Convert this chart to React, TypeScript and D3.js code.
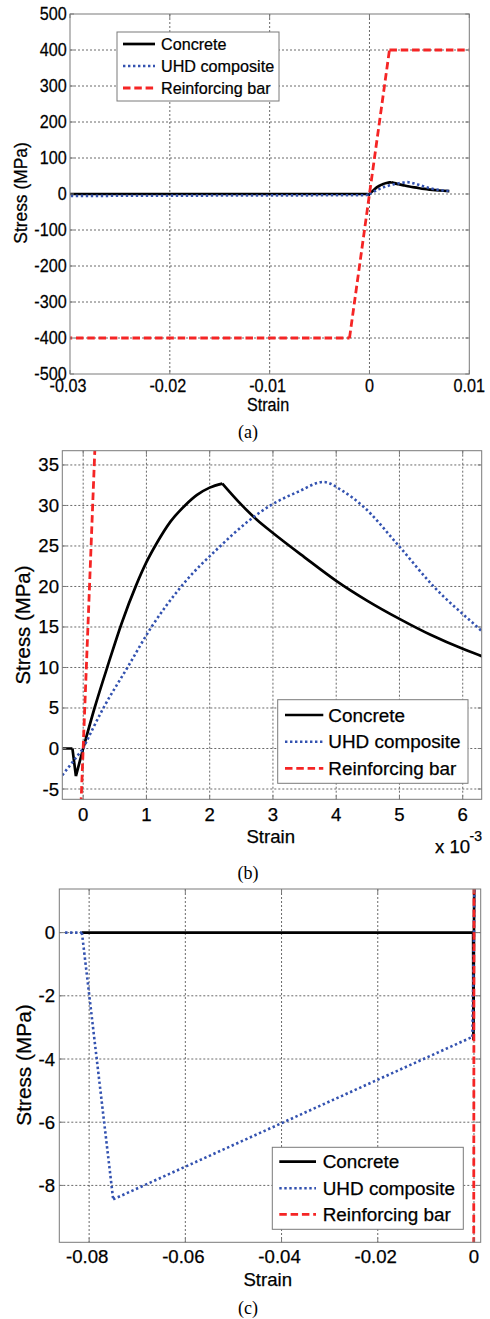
import React, { useEffect, useRef } from "react";
import * as d3 from "d3";

// ---------- data ----------
const concreteStrain = [-0.0815, -0.00017, -0.000115, 0, 0.00018, 0.0004, 0.00061, 0.00084, 0.001, 0.00116, 0.00138, 0.00161, 0.0018, 0.002, 0.0022, 0.0025, 0.00275, 0.003, 0.0035, 0.004, 0.0045, 0.005, 0.0055, 0.006, 0.0063, 0.007, 0.008];
const concreteStress = [0, 0, -3.4, 0, 5, 10.5, 15.5, 20.2, 23, 25.3, 28.0, 30.0, 31.3, 32.2, 32.7, 30.1, 28.2, 26.6, 23.6, 20.7, 18.2, 16.0, 14.0, 12.3, 11.4, 9.8, 8.2];

const uhdStrain = [-0.085, -0.0815, -0.075, -0.00033, 0, 0.00032, 0.0007, 0.00108, 0.00155, 0.00217, 0.0026, 0.00296, 0.0034, 0.0038, 0.0041, 0.00441, 0.00499, 0.00554, 0.00623, 0.0063, 0.007, 0.008];
const uhdStress = [0, 0, -8.44, -3.3, 0, 5, 10, 15, 20, 25, 28, 30, 31.7, 32.9, 31.8, 30, 25, 20, 15, 14.5, 11.2, 8.4];

const barStrain = [-0.086, -0.002, 0.002, 0.01];
const barStress = [-400, -400, 400, 400];

// strains where a series has a sharp corner
const concreteCorners = [-0.00017, -0.000115, 0, 0.0022];
const uhdCorners = [-0.0815, -0.075, -0.00033, 0];
const barCorners = [-0.002, 0.002];

const seriesNames = ["Concrete", "UHD composite", "Reinforcing bar"];

const aXTicks = [-0.03, -0.02, -0.01, 0, 0.01];
const aXTickLabels = ["-0.03", "-0.02", "-0.01", "0", "0.01"];
const aYTicks = [-500, -400, -300, -200, -100, 0, 100, 200, 300, 400, 500];
const aYTickLabels = ["-500", "-400", "-300", "-200", "-100", "0", "100", "200", "300", "400", "500"];

const bXTicks = [0, 0.001, 0.002, 0.003, 0.004, 0.005, 0.006];
const bXTickLabels = ["0", "1", "2", "3", "4", "5", "6"];
const bYTicks = [-5, 0, 5, 10, 15, 20, 25, 30, 35];
const bYTickLabels = ["-5", "0", "5", "10", "15", "20", "25", "30", "35"];

const cXTicks = [-0.08, -0.06, -0.04, -0.02, 0];
const cXTickLabels = ["-0.08", "-0.06", "-0.04", "-0.02", "0"];
const cYTicks = [-8, -6, -4, -2, 0];
const cYTickLabels = ["-8", "-6", "-4", "-2", "0"];

const SANS = '"Liberation Sans", Arial, Helvetica, sans-serif';
const SERIF = '"Liberation Serif", "Times New Roman", serif';

const panels = [
  {
    id: "a", left: 70, right: 469.3, top: 14, bottom: 374,
    xDomain: [-0.03, 0.01], yDomain: [-500, 500],
    xTicks: aXTicks, xLabels: aXTickLabels, yTicks: aYTicks, yLabels: aYTickLabels,
    fs: 18.6, sx: 0.87, yLabelRight: 66.7, xLabelY: 386,
    xTitle: { x: 268, y: 405 }, yTitle: { x: 21, y: 193, fs: 18.6, sx: 0.935 },
    caption: { text: "(a)", x: 248, y: 432 },
    legend: { x0: 117, x1: 279, y0: 32, y1: 101, rows: [44, 66, 88], l0: 123, l1: 155, tx: 161, fs: 17.2, sx: 0.94 },
  },
  {
    id: "b", left: 62.3, right: 481.7, top: 450.7, bottom: 799.3,
    xDomain: [-0.00033, 0.0063], yDomain: [-6.27, 36.76],
    xTicks: bXTicks, xLabels: bXTickLabels, yTicks: bYTicks, yLabels: bYTickLabels,
    fs: 18.6, sx: 1, yLabelRight: 59, xLabelY: 814,
    xTitle: { x: 270.7, y: 836.7 }, yTitle: { x: 22.7, y: 625, fs: 20.4, sx: 1 },
    caption: { text: "(b)", x: 248, y: 872.7 },
    legend: { x0: 277.7, x1: 468, y0: 699.7, y1: 783.3, rows: [715, 741.7, 768.3], l0: 285, l1: 323.3, tx: 328.3, fs: 18.9, sx: 1 },
    exponent: true,
  },
  {
    id: "c", left: 59.3, right: 480.7, top: 889, bottom: 1242.3,
    xDomain: [-0.0862, 0.0014], yDomain: [-9.8, 1.38],
    xTicks: cXTicks, xLabels: cXTickLabels, yTicks: cYTicks, yLabels: cYTickLabels,
    fs: 18.6, sx: 1, yLabelRight: 55, xLabelY: 1256.7,
    xTitle: { x: 267.7, y: 1279.3 }, yTitle: { x: 23.3, y: 1065, fs: 20.8, sx: 1 },
    caption: { text: "(c)", x: 248, y: 1308 },
    legend: { x0: 272.3, x1: 463.3, y0: 1147.3, y1: 1229.3, rows: [1161.7, 1188.3, 1214.3], l0: 279.3, l1: 316, tx: 322.7, fs: 18.9, sx: 1 },
  },
];

const styles = [
  { color: "#000000", width: 2.7, dash: null as string | null },
  { color: "#3352b0", width: 2.6, dash: "2.4,2.6" },
  { color: "#f52525", width: 2.8, dash: "7.5,3.8" },
];

function addText(g: any, x: number, y: number, s: string, o: any) {
  return g
    .append("text")
    .attr("transform", `translate(${x},${y}) rotate(${o.rotate || 0}) scale(${o.sx || 1},1)`)
    .attr("text-anchor", o.anchor || "middle")
    .attr("dominant-baseline", "central")
    .style("font-family", o.family || SANS)
    .style("font-size", `${o.size}px`)
    .attr("fill", "#000")
    .attr("stroke", o.family ? "none" : "#000")
    .attr("stroke-width", 0.25)
    .text(s);
}

// split a series at its corner points so each smooth piece is drawn with a monotone curve
function splitAtCorners(xs: number[], ys: number[], corners: number[]) {
  const pieces: number[][][] = [];
  let cur: number[][] = [];
  xs.forEach((xv, i) => {
    cur.push([xv, ys[i]]);
    if (corners.includes(xv) && i > 0 && i < xs.length - 1) {
      pieces.push(cur);
      cur = [[xv, ys[i]]];
    }
  });
  if (cur.length) pieces.push(cur);
  return pieces;
}

export default function App() {
  const ref = useRef<SVGSVGElement | null>(null);

  useEffect(() => {
    const svg = d3.select(ref.current);
    svg.selectAll("*").remove();

    const datasets = [
      splitAtCorners(concreteStrain, concreteStress, concreteCorners),
      splitAtCorners(uhdStrain, uhdStress, uhdCorners),
      splitAtCorners(barStrain, barStress, barCorners),
    ];

    panels.forEach((p) => {
      const g = svg.append("g");
      const x = d3.scaleLinear().domain(p.xDomain).range([p.left, p.right]);
      const y = d3.scaleLinear().domain(p.yDomain).range([p.bottom, p.top]);

      const clipId = `clip-${p.id}`;
      svg
        .append("defs")
        .append("clipPath")
        .attr("id", clipId)
        .append("rect")
        .attr("x", p.left)
        .attr("y", p.top)
        .attr("width", p.right - p.left)
        .attr("height", p.bottom - p.top);

      g.append("rect")
        .attr("x", p.left).attr("y", p.top)
        .attr("width", p.right - p.left).attr("height", p.bottom - p.top)
        .attr("fill", "#fff");

      // grid
      const grid = g.append("g").attr("stroke", "#444").attr("stroke-width", 0.8).attr("stroke-dasharray", "2,2");
      p.xTicks.forEach((t: number) => {
        const xx = x(t);
        if (xx <= p.left + 0.5 || xx >= p.right - 0.5) return;
        grid.append("line").attr("x1", xx).attr("x2", xx).attr("y1", p.top).attr("y2", p.bottom);
      });
      p.yTicks.forEach((t: number) => {
        const yy = y(t);
        if (yy <= p.top + 0.5 || yy >= p.bottom - 0.5) return;
        grid.append("line").attr("y1", yy).attr("y2", yy).attr("x1", p.left).attr("x2", p.right);
      });

      // series
      const line = d3
        .line<number[]>()
        .x((d) => x(d[0]))
        .y((d) => y(d[1]))
        .curve(d3.curveMonotoneX);
      const plot = g.append("g").attr("clip-path", `url(#${clipId})`);
      datasets.forEach((pieces, i) => {
        const s = styles[i];
        const d = pieces.map((pc) => line(pc as any)).join("");
        const path = plot
          .append("path")
          .attr("d", d)
          .attr("fill", "none")
          .attr("stroke", s.color)
          .attr("stroke-width", s.width)
          .attr("stroke-linejoin", "round");
        if (s.dash) path.attr("stroke-dasharray", s.dash);
      });

      // axes box and ticks
      const ax = g.append("g").attr("stroke", "#7a7a7a").attr("stroke-width", 1).attr("fill", "none");
      ax.append("rect")
        .attr("x", p.left).attr("y", p.top)
        .attr("width", p.right - p.left).attr("height", p.bottom - p.top);
      const tl = 4;
      p.xTicks.forEach((t: number) => {
        const xx = x(t);
        ax.append("line").attr("x1", xx).attr("x2", xx).attr("y1", p.bottom).attr("y2", p.bottom - tl);
        ax.append("line").attr("x1", xx).attr("x2", xx).attr("y1", p.top).attr("y2", p.top + tl);
      });
      p.yTicks.forEach((t: number) => {
        const yy = y(t);
        ax.append("line").attr("y1", yy).attr("y2", yy).attr("x1", p.left).attr("x2", p.left + tl);
        ax.append("line").attr("y1", yy).attr("y2", yy).attr("x1", p.right).attr("x2", p.right - tl);
      });

      // tick labels
      p.xTicks.forEach((t: number, i: number) => {
        const lbl = p.xLabels[i];
        const dx = lbl.startsWith("-") ? -2 : 0;
        addText(g, x(t) + dx, p.xLabelY, lbl, { size: p.fs, sx: p.sx });
      });
      p.yTicks.forEach((t: number, i: number) => {
        addText(g, p.yLabelRight, y(t), p.yLabels[i], { size: p.fs, sx: p.sx, anchor: "end" });
      });

      // axis titles
      addText(g, p.xTitle.x, p.xTitle.y, "Strain", { size: p.fs, sx: p.sx });
      addText(g, p.yTitle.x, p.yTitle.y, "Stress (MPa)", { size: p.yTitle.fs, sx: p.yTitle.sx, rotate: -90 });

      if ((p as any).exponent) {
        addText(g, 435, 846.5, "x 10", { size: 18.6, anchor: "start" });
        addText(g, 469.5, 836, "-3", { size: 14, anchor: "start" });
      }

      // caption
      addText(g, p.caption.x, p.caption.y, p.caption.text, { size: 18, family: SERIF });

      // legend
      const L = p.legend;
      g.append("rect")
        .attr("x", L.x0).attr("y", L.y0)
        .attr("width", L.x1 - L.x0).attr("height", L.y1 - L.y0)
        .attr("fill", "#fff").attr("stroke", "#7a7a7a").attr("stroke-width", 1);
      seriesNames.forEach((name, i) => {
        const s = styles[i];
        const ly = L.rows[i];
        const ln = g.append("line")
          .attr("x1", L.l0).attr("x2", L.l1).attr("y1", ly).attr("y2", ly)
          .attr("stroke", s.color).attr("stroke-width", s.width);
        if (s.dash) ln.attr("stroke-dasharray", s.dash);
        addText(g, L.tx, ly, name, { size: L.fs, sx: L.sx, anchor: "start" });
      });
    });
  }, []);

  return (
    <svg
      ref={ref}
      width={490}
      height={1319}
      style={{ position: "absolute", left: 0, top: 0, background: "#fff" }}
    />
  );
}
